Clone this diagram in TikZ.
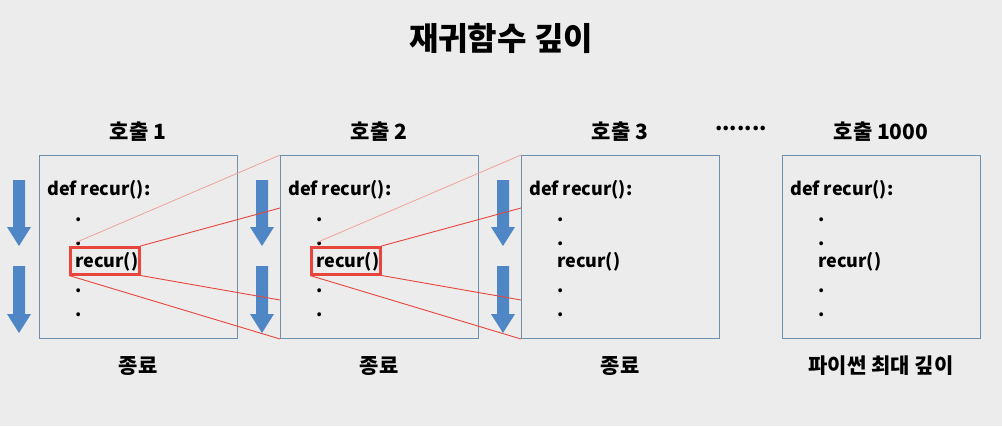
\documentclass[tikz,border=0pt]{standalone}
\usepackage{fontspec}
\setmainfont{Noto Sans CJK KR}
\definecolor{bg}{HTML}{ECECEC}
\definecolor{boxc}{HTML}{6F8FAF}
\definecolor{arrc}{HTML}{4F86C6}
\definecolor{redc}{HTML}{E8453C}
\definecolor{redl}{HTML}{EFA39E}
\begin{document}
\begin{tikzpicture}[x=1pt,y=-1pt,
  frame/.style={draw=boxc,line width=1pt,minimum width=198pt,minimum height=183pt,anchor=north west,inner sep=0pt},
  code/.style={font=\fontsize{18}{20}\selectfont\bfseries,anchor=base west,inner sep=0pt},
  dot/.style={font=\fontsize{18}{20}\selectfont\bfseries,anchor=base west,inner sep=0pt},
  lab/.style={font=\fontsize{21}{24}\selectfont\bfseries,inner sep=0pt},
  hl/.style={draw=redc,line width=2.5pt,inner sep=0pt,minimum width=69pt,minimum height=27pt,anchor=north west},
  link/.style={draw=redc,line width=0.9pt},
  linkl/.style={draw=redl,line width=0.8pt},
  blk/.style={fill=arrc,draw=none}
]
\fill[bg] (0,0) rectangle (1002,426);
\useasboundingbox (0,0) rectangle (1002,426);
\node[font=\fontsize{32}{36}\selectfont\bfseries] (title) at (501,38) {재귀함수 깊이};
% frames
\foreach \i/\x/\l/\e in {1/39/호출 1/종료, 2/280/호출 2/종료, 3/521/호출 3/종료, 4/782/호출 1000/파이썬 최대 깊이}{
  \node[frame] (f\i) at (\x,155) {};
  \node[lab] (t\i) at (\x+99,132) {\l};
  \node[lab] (e\i) at (\x+99,366) {\e};
  \node[code] (d\i) at (\x+8,195) {def recur():};
  \node[dot] (p\i a) at (\x+36,221) {.};
  \node[dot] (p\i b) at (\x+36,245) {.};
  \node[code] (r\i) at (\x+36,267) {recur()};
  \node[dot] (p\i c) at (\x+36,292) {.};
  \node[dot] (p\i d) at (\x+36,316) {.};
}
\node[lab] (dots) at (741,128) {.......};
% highlight boxes
\node[hl] (h1) at (69,246) {};
\node[hl] (h2) at (310,246) {};
% block arrows
\foreach \cx in {19,262,503}{
  \foreach \ty/\by in {180/246,266/333}{
    \fill[arrc] (\cx-6,\ty) -- (\cx+6,\ty) -- (\cx+6,\by-19) -- (\cx+12,\by-19) -- (\cx,\by) -- (\cx-12,\by-19) -- (\cx-6,\by-19) -- cycle;
  }
}
% links
\coordinate (f2a) at (280,208);
\coordinate (f2b) at (280,300);
\coordinate (f3a) at (521,208);
\coordinate (f3b) at (521,300);
\coordinate (h1t) at (77,242);
\coordinate (h2t) at (318,242);
\draw[linkl] (h1t) -- (f2.north west);
\draw[link] (h1.north east) -- (f2a);
\draw[link] (h1.south east) -- (f2b);
\draw[link] (h1.south west) -- (f2.south west);
\draw[linkl] (h2t) -- (f3.north west);
\draw[link] (h2.north east) -- (f3a);
\draw[link] (h2.south east) -- (f3b);
\draw[link] (h2.south west) -- (f3.south west);
\end{tikzpicture}
\end{document}
